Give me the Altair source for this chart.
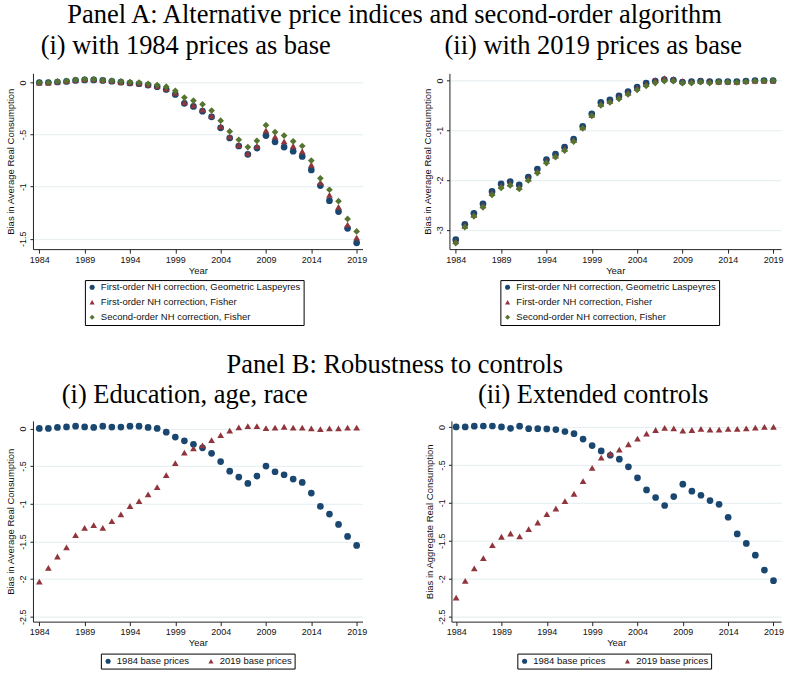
import altair as alt
import pandas as pd

years = list(range(1984, 2020))
tick_years = list(range(1984, 2020, 5))

SERIF = "Liberation Serif"
SANS = "Liberation Sans"

NAVY = "#1a476f"
MAROON = "#90353b"
FOREST = "#55752f"

# Panel A series (bias in average real consumption)
a_names = [
    "First-order NH correction, Geometric Laspeyres",
    "First-order NH correction, Fisher",
    "Second-order NH correction, Fisher",
]

# (i) 1984 prices as base
a1_geo = [0.0, 0.0, 0.005, 0.01, 0.02, 0.025, 0.025, 0.02, 0.012, 0.003, -0.005, -0.012,
          -0.025, -0.04, -0.067, -0.115, -0.20, -0.23, -0.275, -0.33, -0.435, -0.533,
          -0.61, -0.69, -0.63, -0.51, -0.57, -0.62, -0.66, -0.71, -0.84, -0.99,
          -1.135, -1.24, -1.40, -1.54]
a1_fisher = [0.0, 0.0, 0.008, 0.015, 0.025, 0.03, 0.03, 0.022, 0.015, 0.005, 0.0, -0.008,
             -0.02, -0.035, -0.058, -0.10, -0.19, -0.22, -0.26, -0.32, -0.42, -0.52,
             -0.60, -0.68, -0.61, -0.46, -0.52, -0.565, -0.61, -0.66, -0.79, -0.96,
             -1.08, -1.195, -1.365, -1.49]
a1_second = [0.0, 0.0, 0.01, 0.015, 0.025, 0.03, 0.03, 0.022, 0.018, 0.01, 0.005, 0.0,
             -0.012, -0.025, -0.04, -0.08, -0.145, -0.175, -0.21, -0.27, -0.367, -0.47,
             -0.55, -0.62, -0.56, -0.41, -0.476, -0.51, -0.565, -0.61, -0.75, -0.92,
             -1.03, -1.14, -1.31, -1.43]

# (ii) 2019 prices as base
a2_geo = [-3.20, -2.89, -2.67, -2.48, -2.23, -2.08, -2.03, -2.10, -1.94, -1.78, -1.59, -1.48,
          -1.34, -1.18, -0.92, -0.67, -0.44, -0.39, -0.31, -0.22, -0.13, -0.05,
          -0.01, 0.02, 0.01, -0.03, -0.02, -0.01, -0.02, -0.02, -0.02, -0.02,
          -0.01, 0.0, 0.0, 0.0]
a2_fisher = [-3.23, -2.92, -2.70, -2.51, -2.26, -2.12, -2.07, -2.14, -1.97, -1.82, -1.62, -1.51,
             -1.37, -1.20, -0.94, -0.69, -0.47, -0.41, -0.33, -0.24, -0.15, -0.07,
             0.01, 0.05, 0.03, -0.01, -0.01, 0.0, -0.01, -0.02, -0.02, -0.025,
             -0.01, 0.0, 0.0, 0.0]
a2_second = [-3.27, -2.95, -2.73, -2.55, -2.30, -2.16, -2.11, -2.18, -2.01, -1.86, -1.66, -1.54,
             -1.41, -1.23, -0.96, -0.71, -0.50, -0.44, -0.37, -0.28, -0.19, -0.11,
             -0.05, -0.01, -0.01, -0.05, -0.05, -0.03, -0.05, -0.03, -0.03, -0.035,
             -0.02, -0.01, -0.005, 0.0]

# Panel B series
b_names = ["1984 base prices", "2019 base prices"]

# (i) Education, age, race
b1_1984 = [0.0, 0.0, 0.013, 0.02, 0.03, 0.02, 0.013, 0.03, 0.018, 0.018, 0.03, 0.03,
           0.013, 0.0, -0.05, -0.115, -0.165, -0.21, -0.257, -0.33, -0.44, -0.567,
           -0.646, -0.73, -0.633, -0.5, -0.575, -0.615, -0.673, -0.717, -0.858, -1.035,
           -1.137, -1.274, -1.434, -1.553]
b1_2019 = [-2.035, -1.85, -1.70, -1.58, -1.416, -1.32, -1.283, -1.32, -1.23, -1.14, -1.03, -0.965,
           -0.876, -0.78, -0.62, -0.46, -0.32, -0.265, -0.225, -0.155, -0.088, -0.03,
           0.013, 0.03, 0.03, 0.004, 0.01, 0.022, 0.01, 0.01, 0.0, -0.01,
           0.0, 0.0, 0.01, 0.01]

# (ii) Extended controls
b2_1984 = [0.0, 0.0, 0.01, 0.013, 0.013, 0.0, -0.018, 0.01, -0.022, -0.022, -0.026, -0.035,
           -0.06, -0.088, -0.16, -0.245, -0.316, -0.373, -0.425, -0.526, -0.67, -0.83,
           -0.93, -1.035, -0.917, -0.754, -0.846, -0.90, -0.97, -1.02, -1.19, -1.41,
           -1.535, -1.69, -1.886, -2.026]
b2_2019 = [-2.25, -2.03, -1.864, -1.728, -1.557, -1.447, -1.404, -1.443, -1.346, -1.259, -1.149, -1.075,
           -0.978, -0.88, -0.715, -0.54, -0.404, -0.35, -0.298, -0.228, -0.154, -0.088,
           -0.04, -0.013, -0.018, -0.048, -0.04, -0.026, -0.035, -0.035, -0.026, -0.026,
           -0.018, -0.01, 0.0, 0.0]


def long_frame(names, columns):
    rows = []
    for name, vals in zip(names, columns):
        for yr, v in zip(years, vals):
            rows.append({"year": yr, "value": v, "series": name})
    return pd.DataFrame(rows)


Y_LABELS = ("datum.value == 0 ? '0' : "
            "'-' + replace(format(abs(datum.value), '.1~f'), '0.', '.')")


def panel(df, names, colors, shapes, y_title, y_domain, y_ticks, x_domain,
          w, h, title, title_dx, title_offset, legend):
    x_axis = alt.Axis(
        values=tick_years, format="d", title="Year", grid=False,
        domainColor="#222", domainWidth=1, tickColor="#222", tickSize=4,
        labelFont=SANS, labelFontSize=9, labelColor="#111", labelPadding=2,
        labelFlush=False, titleFont=SANS, titleFontSize=9.5,
        titleFontWeight="normal", titleColor="#111", titlePadding=1,
    )
    y_axis = alt.Axis(
        values=y_ticks, labelExpr=Y_LABELS, title=y_title, grid=True,
        gridColor="#e4edf0", gridWidth=1, domainColor="#222", domainWidth=1,
        tickColor="#222", tickSize=3, labelAngle=270, labelAlign="center",
        labelBaseline="bottom", labelFont=SANS, labelFontSize=9,
        labelColor="#111", labelPadding=2, titleFont=SANS, titleFontSize=9.5,
        titleFontWeight="normal", titleColor="#111", titlePadding=3,
    )
    leg = alt.Legend(**legend)
    return alt.Chart(df).mark_point(filled=True, opacity=1, size=45).encode(
        x=alt.X("year:Q", scale=alt.Scale(domain=x_domain, nice=False, zero=False), axis=x_axis),
        y=alt.Y("value:Q", scale=alt.Scale(domain=y_domain, nice=False, zero=False), axis=y_axis),
        color=alt.Color("series:N", scale=alt.Scale(domain=names, range=colors), legend=leg),
        shape=alt.Shape("series:N", scale=alt.Scale(domain=names, range=shapes), legend=leg),
    ).properties(
        width=w, height=h,
        title=alt.TitleParams(
            title, font=SERIF, fontSize=26.5, fontWeight="normal", color="black",
            anchor="middle", frame="group", dx=title_dx, offset=title_offset,
        ),
    )


def legend_cfg(x, y, direction):
    return dict(
        title=None, orient="none", legendX=x, legendY=y, direction=direction,
        strokeColor="#000", fillColor="white", padding=2.5, cornerRadius=0,
        labelFont=SANS, labelFontSize=9.5, labelColor="#111", labelLimit=400,
        symbolSize=26, labelOffset=4, rowPadding=4, columnPadding=17,
    )


a_colors = [NAVY, MAROON, FOREST]
a_shapes = ["circle", "triangle-up", "diamond"]
b_colors = [NAVY, MAROON]
b_shapes = ["circle", "triangle-up"]

A1 = panel(long_frame(a_names, [a1_geo, a1_fisher, a1_second]), a_names, a_colors, a_shapes,
           "Bias in Average Real Consumption", [-1.6, 0.088], [0, -0.5, -1, -1.5],
           [1983.3, 2019.65], 330, 176, "(i) with 1984 prices as base", -12, 14,
           legend_cfg(52, 207, "vertical"))
A2 = panel(long_frame(a_names, [a2_geo, a2_fisher, a2_second]), a_names, a_colors, a_shapes,
           "Bias in Average Real Consumption", [-3.39, 0.145], [0, -1, -2, -3],
           [1983.3, 2019.87], 332, 176, "(ii) with 2019 prices as base", -22, 14,
           legend_cfg(51, 207, "vertical"))
B1 = panel(long_frame(b_names, [b1_1984, b1_2019]), b_names, b_colors, b_shapes,
           "Bias in Average Real Consumption", [-2.565, 0.1], [0, -0.5, -1, -1.5, -2, -2.5],
           [1983.3, 2019.65], 330, 201, "(i) Education, age, race", -13, 12,
           legend_cfg(68, 233, "horizontal"))
B2 = panel(long_frame(b_names, [b2_1984, b2_2019]), b_names, b_colors, b_shapes,
           "Bias in Aggregate Real Consumption", [-2.566, 0.08], [0, -0.5, -1, -1.5, -2, -2.5],
           [1983.48, 2019.83], 330, 201, "(ii) Extended controls", -23, 12,
           legend_cfg(66, 233, "horizontal"))

row_a = alt.hconcat(
    A1, A2, spacing=87, bounds="flush",
    title=alt.TitleParams("Panel A: Alternative price indices and second-order algorithm",
                          font=SERIF, fontSize=26.5, fontWeight="normal", color="black",
                          anchor="middle", frame="bounds", offset=4),
).resolve_scale(color="independent", shape="independent")
row_b = alt.hconcat(
    B1, B2, spacing=89, bounds="flush",
    title=alt.TitleParams("Panel B: Robustness to controls",
                          font=SERIF, fontSize=26.5, fontWeight="normal", color="black",
                          anchor="middle", frame="bounds", offset=4),
).resolve_scale(color="independent", shape="independent")

chart = alt.vconcat(row_a, row_b, spacing=26).configure_view(
    stroke=None
).properties(
    background="white",
    padding={"left": 6, "top": 2, "right": 2, "bottom": 2},
)

chart.save("out.html", embed_options={"renderer": "svg", "actions": False})
